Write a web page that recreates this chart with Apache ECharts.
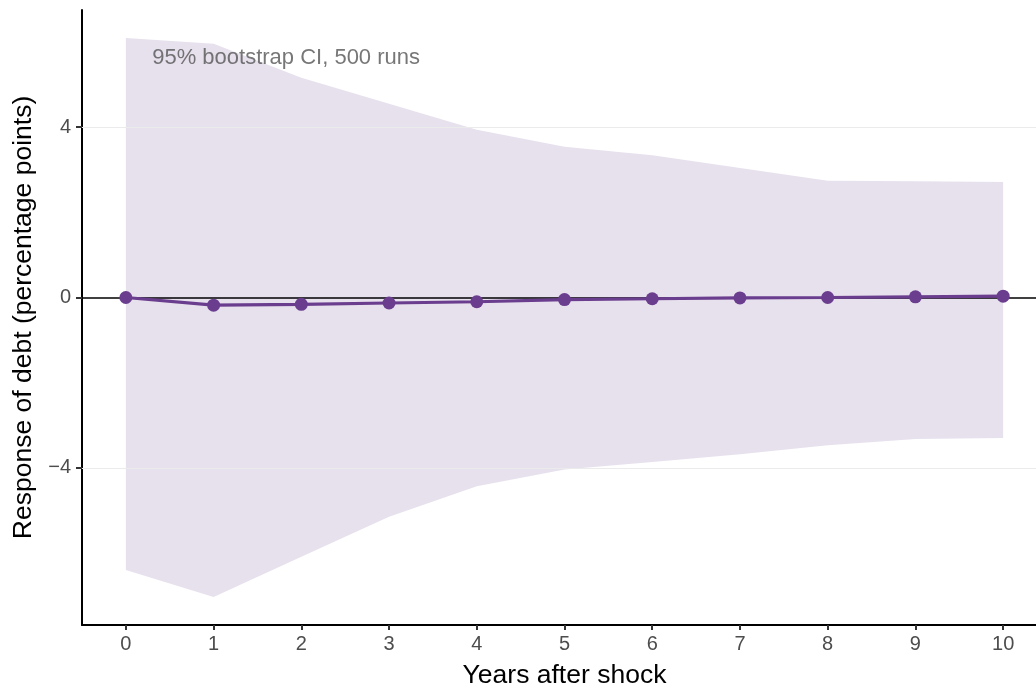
<!DOCTYPE html>
<html>
<head>
<meta charset="utf-8">
<script src="https://cdn.jsdelivr.net/npm/echarts@6/dist/echarts.min.js"></script>
<style>html,body{margin:0;padding:0;background:#fff}#c{width:1036px;height:689px}</style>
</head>
<body>
<div id="c"></div>
<script>
var years = [0,1,2,3,4,5,6,7,8,9,10];
var response = [0.00,-0.18,-0.16,-0.13,-0.10,-0.05,-0.03,-0.01,0.00,0.015,0.03];
var upperCI = [6.09,5.96,5.16,4.55,3.94,3.54,3.34,3.04,2.74,2.73,2.71];
var lowerCI = [-6.40,-7.03,-6.09,-5.15,-4.43,-4.04,-3.86,-3.68,-3.47,-3.32,-3.30];
var xTicks = [0,1,2,3,4,5,6,7,8,9,10];
var yTicks = [-4,0,4];
var gridValues = [-4,4];
var annotation = {x:0.3, y:5.62, text:'95% bootstrap CI, 500 runs'};

var purple = '#6a3d8e';
var font = '"Liberation Sans", Arial, sans-serif';

var bandData = years.map(function(x,i){return [x, lowerCI[i], upperCI[i]];});

var chart = echarts.init(document.getElementById('c'), null, {renderer:'canvas'});
chart.setOption({
  animation:false,
  backgroundColor:'#fff',
  grid:{left:82, right:-11, top:10, bottom:64, containLabel:false, outerBoundsMode:'none'},
  xAxis:{
    type:'value', min:-0.5, max:10.5,
    name:'Years after shock', nameLocation:'middle', nameGap:37,
    nameTextStyle:{color:'#000', fontSize:26.5, fontFamily:font},
    axisLine:{show:true, onZero:false, lineStyle:{color:'#000', width:2}},
    axisTick:{show:true, length:5, customValues:xTicks, lineStyle:{color:'#333', width:2}},
    axisLabel:{show:true, customValues:xTicks, color:'#4d4d4d', fontSize:20, fontFamily:font, margin:9},
    splitLine:{show:false}
  },
  yAxis:{
    type:'value', min:-7.69, max:6.75,
    name:'Response of debt (percentage points)', nameLocation:'middle', nameGap:43,
    nameTextStyle:{color:'#000', fontSize:26.5, fontFamily:font},
    axisLine:{show:true, onZero:false, lineStyle:{color:'#000', width:2}},
    axisTick:{show:true, length:6, customValues:yTicks, lineStyle:{color:'#333', width:2}},
    axisLabel:{show:true, customValues:yTicks, color:'#4d4d4d', fontSize:20, fontFamily:font, margin:11,
      formatter:function(v){return v<0 ? '\u2212'+Math.abs(v) : String(v);}},
    splitLine:{show:false}
  },
  series:[
    {
      type:'line', name:'grid', data:[], silent:true, z:1,
      markLine:{silent:true, symbol:['none','none'], label:{show:false},
        lineStyle:{color:'#ebebeb', width:1.2, type:'solid'},
        data:gridValues.map(function(v){return {yAxis:v};})}
    },
    {
      type:'custom', name:'band', z:2, silent:true,
      data:bandData,
      encode:{x:0, y:[1,2]},
      renderItem:function(params, api){
        if (params.dataIndex !== 0) return null;
        var top = [], bottom = [];
        for (var i = 0; i < bandData.length; i++) {
          top.push(api.coord([bandData[i][0], bandData[i][2]]));
          bottom.push(api.coord([bandData[i][0], bandData[i][1]]));
        }
        var pts = top.concat(bottom.reverse());
        return {type:'polygon', shape:{points:pts}, style:{fill:'rgba(106,61,142,0.16)', stroke:null}};
      }
    },
    {
      type:'line', name:'zero', data:[], silent:true, z:3,
      markLine:{silent:true, symbol:['none','none'], label:{show:false},
        lineStyle:{color:'#000', width:1.6, type:'solid'},
        data:[{yAxis:0}]}
    },
    {
      type:'line', name:'response', z:5,
      data:years.map(function(x,i){return [x, response[i]];}),
      symbol:'circle', symbolSize:13, showSymbol:true,
      itemStyle:{color:purple}, lineStyle:{color:purple, width:3.2}
    },
    {
      type:'scatter', name:'note', z:6, silent:true,
      data:[[annotation.x, annotation.y]], symbolSize:0,
      label:{show:true, position:[0,0], align:'left', verticalAlign:'middle',
        formatter:annotation.text, color:'#555', fontSize:22, fontFamily:font}
    }
  ]
});
</script>
</body>
</html>
